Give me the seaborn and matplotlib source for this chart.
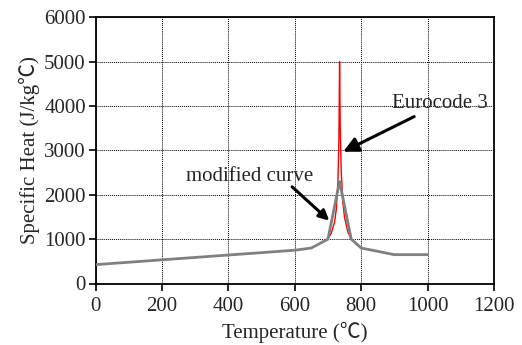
import matplotlib
matplotlib.use("Agg")
import matplotlib.pyplot as plt
import seaborn as sns
import pandas as pd

# Modified curve (grey)
mod_T = [0, 600, 650, 700, 735, 770, 800, 900, 1000]
mod_c = [425, 750, 800, 1000, 2300, 1000, 800, 650, 650]

# Eurocode 3 curve (red) around the peak
ec_T = [700, 710, 720, 725, 730, 733, 735,
        737, 740, 745, 750, 760, 770]
ec_c = [1008, 1130, 1388, 1666, 2291, 3266, 5000,
        3515, 2525, 1818, 1483, 1160, 1002]

x_ticks = [0, 200, 400, 600, 800, 1000, 1200]
y_ticks = [0, 1000, 2000, 3000, 4000, 5000, 6000]

sns.set_style("white")
fam = ['Liberation Serif', 'Noto Sans CJK SC', 'DejaVu Sans']
plt.rcParams['font.family'] = fam

FS = 15

fig = plt.figure(figsize=(5.22, 3.45), dpi=100)
ax = fig.add_axes([95.5 / 522, 1 - 283.5 / 345, (494 - 95.5) / 522, (283.5 - 17.3) / 345])

ec_df = pd.DataFrame({"T": ec_T, "c": ec_c})
mod_df = pd.DataFrame({"T": mod_T, "c": mod_c})
sns.lineplot(data=ec_df, x="T", y="c", ax=ax, color="#ff0000", lw=1.0, sort=False, zorder=3)
sns.lineplot(data=mod_df, x="T", y="c", ax=ax, color="#808080", lw=2.0, sort=False, zorder=4)

ax.set_xlim(0, 1200)
ax.set_ylim(0, 6000)
ax.set_xticks(x_ticks)
ax.set_yticks(y_ticks)
ax.set_xticklabels([str(v) for v in x_ticks], fontsize=FS)
ax.set_yticklabels([str(v) for v in y_ticks], fontsize=FS)
ax.tick_params(axis='both', direction='out', length=5, width=1.2, color='black', pad=2,
               bottom=True, left=True)
ax.tick_params(axis='x', pad=5)
ax.grid(True, color='black', linestyle=(0, (1, 1)), linewidth=0.7)
for s in ax.spines.values():
    s.set_color('black')
    s.set_linewidth(1.3)

ax.set_xlabel("Temperature (℃)", fontsize=FS, labelpad=4)
ax.set_ylabel("Specific Heat (J/kg℃)", fontsize=FS, labelpad=3)

ax.annotate("Eurocode 3", xy=(746, 2970), xytext=(893, 4050), fontsize=FS,
            ha='left', va='center', zorder=6,
            arrowprops=dict(arrowstyle='-|>,head_length=0.6,head_width=0.3', color='black', lw=2.2,
                            shrinkA=0, shrinkB=0))
ax.annotate("", xy=(704, 1416), xytext=(592, 2180), zorder=6,
            arrowprops=dict(arrowstyle='-|>,head_length=0.6,head_width=0.3', color='black', lw=2.2,
                            shrinkA=0, shrinkB=0))
ax.text(465, 2420, "modified curve", fontsize=FS, ha='center', va='center', zorder=6)

fig.savefig("out.png", dpi=100)
